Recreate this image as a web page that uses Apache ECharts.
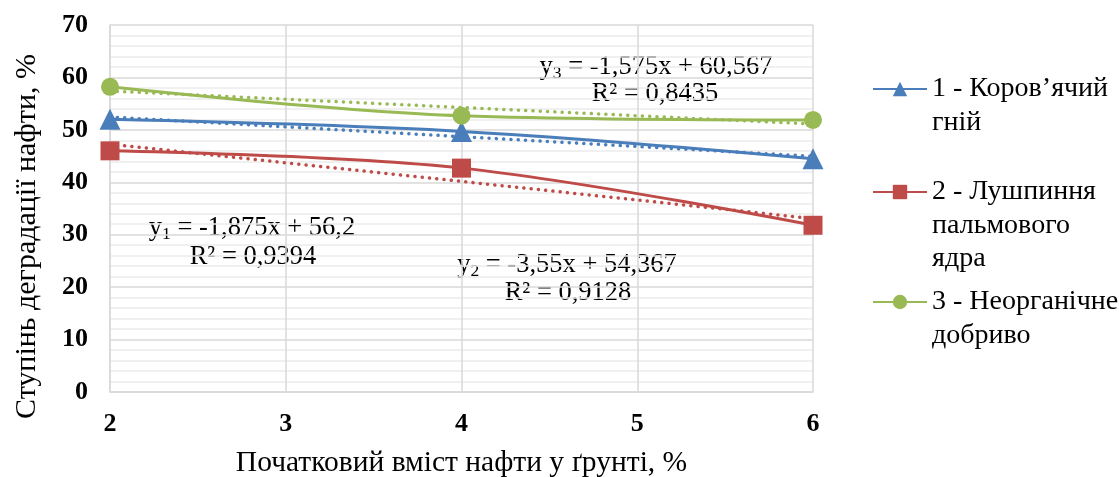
<!DOCTYPE html>
<html>
<head>
<meta charset="utf-8">
<script src="https://cdn.jsdelivr.net/npm/echarts@6/dist/echarts.min.js"></script>
<style>
html,body{margin:0;padding:0;background:#fff;}
#chart{width:1119px;height:477px;}
</style>
</head>
<body>
<div id="chart"></div>
<script>
// ---- data ----
const xValues = [2, 4, 6];
const seriesNames = ['1 - Коров’ячий гній', '2 - Лушпиння пальмового ядра', '3 - Неорганічне добриво'];
const legendLines = [['1 - Коров’ячий', 'гній'], ['2 - Лушпиння', 'пальмового', 'ядра'], ['3 - Неорганічне', 'добриво']];
const cowManure = [52.0, 49.7, 44.5];
const palmKernelShell = [46.0, 42.7, 31.8];
const inorganicFertilizer = [58.2, 52.7, 51.9];
const trendSlopes = [-1.875, -3.55, -1.575];
const trendIntercepts = [56.2, 54.367, 60.567];
const rSquared = [0.9394, 0.9128, 0.8435];
const xTicks = [2, 3, 4, 5, 6];
const yTicks = [0, 10, 20, 30, 40, 50, 60, 70];
const xAxisTitle = 'Початковий вміст нафти у ґрунті, %';
const yAxisTitle = 'Ступінь деградації нафти, %';

// ---- styling ----
const FONT = '"Liberation Serif", "Times New Roman", serif';
const colors = ['#4A7EBB', '#BE4B48', '#98B954'];
const symbols = ['triangle', 'rect', 'circle'];
const symbolSizes = [21, 19, 18];
const allValues = [cowManure, palmKernelShell, inorganicFertilizer];

const chart = echarts.init(document.getElementById('chart'), null, {renderer: 'canvas'});

const series = [];
allValues.forEach((vals, i) => {
  series.push({
    name: seriesNames[i],
    type: 'line',
    smooth: 0.35,
    data: xValues.map((x, j) => [x, vals[j]]),
    symbol: symbols[i],
    symbolSize: symbolSizes[i],
    showSymbol: true,
    lineStyle: {color: colors[i], width: 3},
    itemStyle: {color: colors[i]},
    z: 3
  });
});
allValues.forEach((vals, i) => {
  const xa = xTicks[0], xb = xTicks[xTicks.length - 1];
  series.push({
    name: 'trend' + (i + 1),
    type: 'line',
    data: [[xa, trendIntercepts[i] + trendSlopes[i] * xa], [xb, trendIntercepts[i] + trendSlopes[i] * xb]],
    symbol: 'none',
    lineStyle: {color: colors[i], width: 3.5, type: [0.1, 7.2], cap: 'round'},
    silent: true,
    z: 4
  });
});

const fmt = (v) => String(v).replace('.', ',');
const eqText = (i) => '{v|y}{s|' + (i + 1) + '}{v| = ' + fmt(trendSlopes[i]) + 'x + ' + fmt(trendIntercepts[i]) + '}';
const r2Text = (i) => 'R² = ' + fmt(rSquared[i]);

const eqPos = [[252, 228, 253, 257], [567, 265, 568, 293], [656, 67, 655, 94]];
const graphics = [];
eqPos.forEach((p, i) => {
  graphics.push({
    type: 'text', x: p[0], y: p[1],
    style: {
      text: eqText(i), align: 'center', verticalAlign: 'middle',
      rich: {
        v: {fontFamily: FONT, fontSize: 26.5, fill: '#000', lineHeight: 30},
        s: {fontFamily: FONT, fontSize: 17.5, fill: '#000', lineHeight: 30, verticalAlign: 'bottom', padding: [15, 0, 0, 0]}
      }
    }
  });
  graphics.push({
    type: 'text', x: p[2], y: p[3],
    style: {text: r2Text(i), align: 'center', verticalAlign: 'middle', font: '26.5px ' + FONT, fill: '#000'}
  });
});

const L = 33.5;
const legendIconY = [89, 192, 302];
const legends = legendLines.map((lines, i) => {
  const n = lines.length;
  return {
    data: [seriesNames[i]],
    orient: 'vertical',
    left: 872,
    top: legendIconY[i] - (2 * n - 1) * L / 2,
    padding: 0,
    itemWidth: 54,
    itemHeight: 18,
    itemGap: 0,
    selectedMode: false,
    // leading blank lines keep the marker level with the first text line
    formatter: () => '\n'.repeat(n - 1) + lines.join('\n'),
    textStyle: {fontFamily: FONT, fontSize: 28, color: '#000', lineHeight: L}
  };
});

const option = {
  animation: false,
  backgroundColor: '#fff',
  color: colors,
  grid: {left: 110, right: 306, top: 25, bottom: 85, containLabel: false, outerBoundsMode: 'none'},
  xAxis: {
    type: 'value', min: xTicks[0], max: xTicks[xTicks.length - 1], interval: 1,
    name: xAxisTitle, nameLocation: 'middle', nameGap: 56,
    nameTextStyle: {fontFamily: FONT, fontSize: 29.5, color: '#000'},
    axisLine: {show: true, lineStyle: {color: '#d9d9d9', width: 1.5}},
    axisTick: {show: false},
    axisLabel: {fontFamily: FONT, fontSize: 26, fontWeight: 'bold', color: '#000', margin: 19},
    splitLine: {show: true, lineStyle: {color: '#d9d9d9', width: 1.5}}
  },
  yAxis: {
    type: 'value', min: yTicks[0], max: yTicks[yTicks.length - 1], interval: 10,
    name: yAxisTitle, nameLocation: 'middle', nameGap: 68,
    nameTextStyle: {fontFamily: FONT, fontSize: 30, color: '#000', padding: [0, 56, 0, 0]},
    axisLine: {show: true, lineStyle: {color: '#d9d9d9', width: 1.5}},
    axisTick: {show: false},
    axisLabel: {fontFamily: FONT, fontSize: 26, fontWeight: 'bold', color: '#000', margin: 22},
    splitLine: {show: true, lineStyle: {color: '#d9d9d9', width: 1.5}},
    minorTick: {show: false, splitNumber: 5},
    minorSplitLine: {show: true, lineStyle: {color: '#ececec', width: 1.5}}
  },
  legend: legends,
  series: series,
  graphic: graphics
};
chart.setOption(option);
</script>
</body>
</html>
